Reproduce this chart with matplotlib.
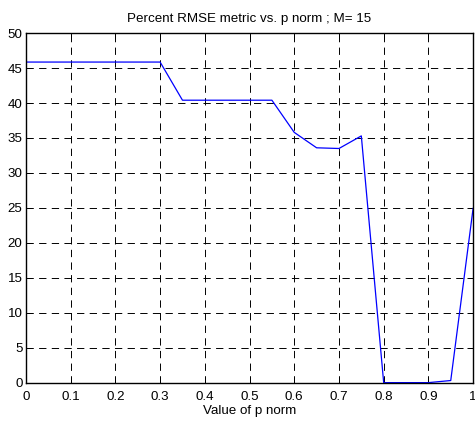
import matplotlib
matplotlib.use("Agg")
import matplotlib.pyplot as plt

p_norm = [0.0, 0.05, 0.1, 0.15, 0.2, 0.25, 0.3, 0.35, 0.4, 0.45, 0.5,
          0.55, 0.6, 0.65, 0.7, 0.75, 0.8, 0.85, 0.9, 0.95, 1.0]
rmse = [45.85, 45.85, 45.85, 45.85, 45.85, 45.85, 45.85, 40.4, 40.4, 40.4, 40.4,
        40.4, 35.8, 33.6, 33.5, 35.3, 0.05, 0.05, 0.05, 0.35, 24.95]
xticks = [0, 0.1, 0.2, 0.3, 0.4, 0.5, 0.6, 0.7, 0.8, 0.9, 1]
xticklabels = ["0", "0.1", "0.2", "0.3", "0.4", "0.5", "0.6", "0.7", "0.8", "0.9", "1"]
yticks = [0, 5, 10, 15, 20, 25, 30, 35, 40, 45, 50]

plt.rcParams['font.family'] = ['Liberation Sans', 'DejaVu Sans']
fs = 9.6

fig = plt.figure(figsize=(4.75, 4.21), dpi=100)
ax = fig.add_axes([0.0547, 0.0903, 0.9413, 0.8313])
ax.plot(p_norm, rmse, color='#0000ff', linewidth=0.9)
ax.set_xlim(0, 1)
ax.set_ylim(0, 50)
ax.set_xticks(xticks)
ax.set_xticklabels(xticklabels)
ax.set_yticks(yticks)
ax.grid(True, color='black', linestyle=(0, (7.5, 5.5)), linewidth=0.7)
ax.tick_params(direction='in', length=4, width=0.7, labelsize=fs,
               top=True, right=True)
ax.tick_params(axis='x', pad=5.5)
ax.tick_params(axis='y', pad=2.5)
for s in ax.spines.values():
    s.set_linewidth(1.0)
ax.set_title("Percent RMSE metric vs. p norm ; M= 15", fontsize=fs, pad=8)
ax.set_xlabel("Value of p norm", fontsize=fs, labelpad=2)
fig.savefig("out.png", dpi=100)
